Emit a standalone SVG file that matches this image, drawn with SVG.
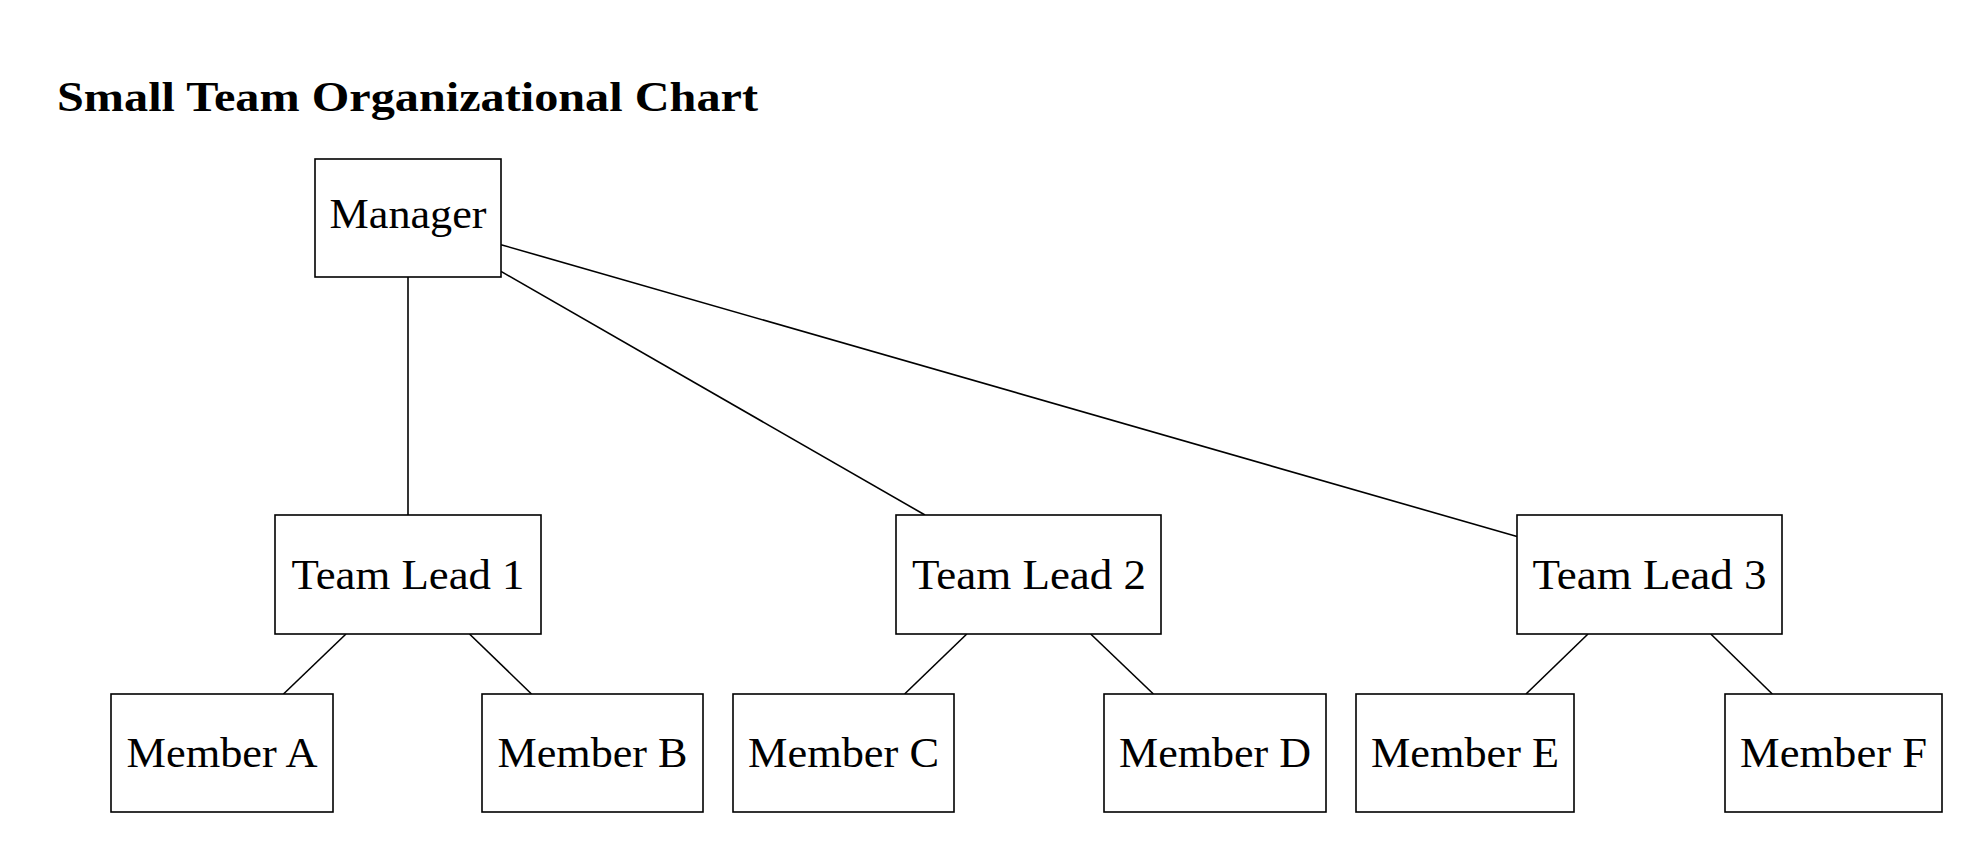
<svg xmlns="http://www.w3.org/2000/svg" width="1985" height="855" viewBox="0 0 1985 855">
<style>
.box{fill:#fff;stroke:#000;stroke-width:1.6}
.lbl{font-family:"Liberation Serif","DejaVu Serif",serif;font-size:43px;fill:#000;text-anchor:middle}
.title{font-family:"Liberation Serif","DejaVu Serif",serif;font-size:42px;font-weight:bold;fill:#000}
#connectors line{stroke:#000;stroke-width:1.6}
</style>
<rect width="1985" height="855" fill="#fff"/>
<text class="title" x="57" y="111" textLength="701" lengthAdjust="spacingAndGlyphs">Small Team Organizational Chart</text>
<g id="connectors">
<line x1="408" y1="277" x2="408" y2="515"/>
<line x1="501" y1="271.4" x2="925" y2="515"/>
<line x1="501" y1="244.7" x2="1517" y2="536.5"/>
<line x1="346" y1="634" x2="283.5" y2="694"/>
<line x1="469.5" y1="634" x2="531.5" y2="694"/>
<line x1="966.8" y1="634" x2="904.6" y2="694"/>
<line x1="1090.7" y1="634" x2="1153.4" y2="694"/>
<line x1="1588" y1="634" x2="1526" y2="694"/>
<line x1="1710.8" y1="634" x2="1772.3" y2="694"/>
</g>
<g id="manager"><rect class="box" x="315" y="159" width="186" height="118"/><text class="lbl" x="408" y="228" textLength="157" lengthAdjust="spacingAndGlyphs">Manager</text></g>
<g id="lead1"><rect class="box" x="275" y="515" width="266" height="119"/><text class="lbl" x="408" y="589" textLength="233" lengthAdjust="spacingAndGlyphs">Team Lead 1</text></g>
<g id="lead2"><rect class="box" x="896" y="515" width="265" height="119"/><text class="lbl" x="1029" y="589" textLength="234" lengthAdjust="spacingAndGlyphs">Team Lead 2</text></g>
<g id="lead3"><rect class="box" x="1517" y="515" width="265" height="119"/><text class="lbl" x="1649.5" y="589" textLength="234" lengthAdjust="spacingAndGlyphs">Team Lead 3</text></g>
<g id="memberA"><rect class="box" x="111" y="694" width="222" height="118"/><text class="lbl" x="222" y="767" textLength="191" lengthAdjust="spacingAndGlyphs">Member A</text></g>
<g id="memberB"><rect class="box" x="482" y="694" width="221" height="118"/><text class="lbl" x="592.5" y="767" textLength="190" lengthAdjust="spacingAndGlyphs">Member B</text></g>
<g id="memberC"><rect class="box" x="733" y="694" width="221" height="118"/><text class="lbl" x="843.5" y="767" textLength="191" lengthAdjust="spacingAndGlyphs">Member C</text></g>
<g id="memberD"><rect class="box" x="1104" y="694" width="222" height="118"/><text class="lbl" x="1215" y="767" textLength="192" lengthAdjust="spacingAndGlyphs">Member D</text></g>
<g id="memberE"><rect class="box" x="1356" y="694" width="218" height="118"/><text class="lbl" x="1465" y="767" textLength="188" lengthAdjust="spacingAndGlyphs">Member E</text></g>
<g id="memberF"><rect class="box" x="1725" y="694" width="217" height="118"/><text class="lbl" x="1833.5" y="767" textLength="187" lengthAdjust="spacingAndGlyphs">Member F</text></g>
</svg>
